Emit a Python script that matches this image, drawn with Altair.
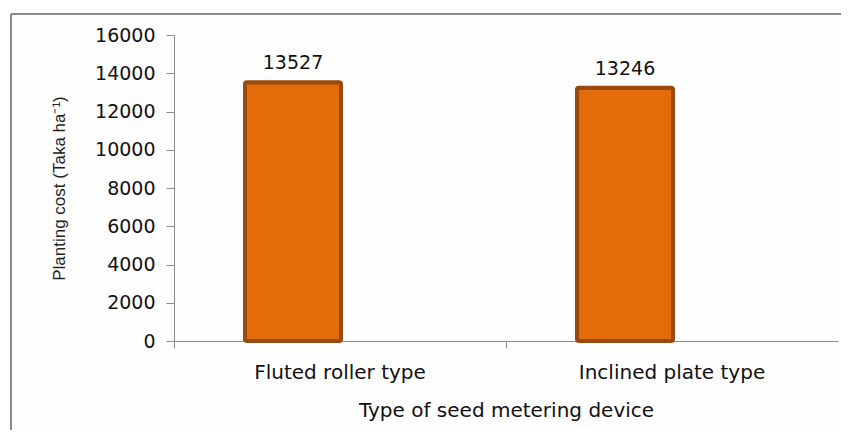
import altair as alt
import pandas as pd

categories = ["Fluted roller type", "Inclined plate type"]
costs = [13527, 13246]
y_ticks = [0, 2000, 4000, 6000, 8000, 10000, 12000, 14000, 16000]

df = pd.DataFrame({"device": categories, "cost": costs})

FONT = "DejaVu Sans"
YFONT = "Liberation Sans"

x_enc = alt.X("device:N", sort=categories,
              scale=alt.Scale(paddingInner=0, paddingOuter=0),
              axis=alt.Axis(title="Type of seed metering device", labelAngle=0,
                            labelFontSize=20, titleFontSize=20, labelPadding=14,
                            titlePadding=18, tickSize=7, bandPosition=0, labelLimit=0,
                            domainColor="#8c8c8c", tickColor="#8c8c8c",
                            labelColor="#111", titleColor="#111",
                            titleFontWeight="normal", labelFont=FONT, titleFont=FONT))
y_enc = alt.Y("cost:Q",
              scale=alt.Scale(domain=[0, 16000], nice=False),
              axis=alt.Axis(title="Planting cost (Taka ha⁻¹)", values=y_ticks, format="d",
                            grid=False, labelFontSize=19, titleFontSize=17, tickSize=8,
                            labelPadding=11, titlePadding=26, domainColor="#8c8c8c",
                            tickColor="#8c8c8c", labelColor="#111", titleColor="#222",
                            titleFontWeight="normal", labelFont=FONT, titleFont=YFONT))

bars = alt.Chart(df).mark_bar(size=96, xOffset=-47, color="#E36C0A", stroke="#9A4A0C",
                              strokeWidth=4, cornerRadius=2).encode(x=x_enc, y=y_enc)

labels = alt.Chart(df).mark_text(xOffset=-47, dy=-13, baseline="alphabetic", fontSize=19,
                                 font=FONT, color="#111").encode(x=x_enc, y=y_enc, text="cost:Q")

frame_left = alt.Chart(df).mark_rule(color="#8a8a8a", strokeWidth=2, clip=False).encode(
    x=alt.value(-163), y=alt.value(-21), y2=alt.value(400))
frame_top = alt.Chart(df).mark_rule(color="#8a8a8a", strokeWidth=2, clip=False).encode(
    x=alt.value(-163), x2=alt.value(680), y=alt.value(-21))

chart = alt.layer(bars, labels, frame_left, frame_top).properties(
    width=664, height=306,
    autosize=alt.AutoSizeParams(type="none"),
    padding={"left": 166, "top": 27, "right": 3, "bottom": 89},
    background="#fefefe",
).configure_view(stroke=None)

chart.save("out.html", embed_options={"renderer": "svg", "actions": False})
